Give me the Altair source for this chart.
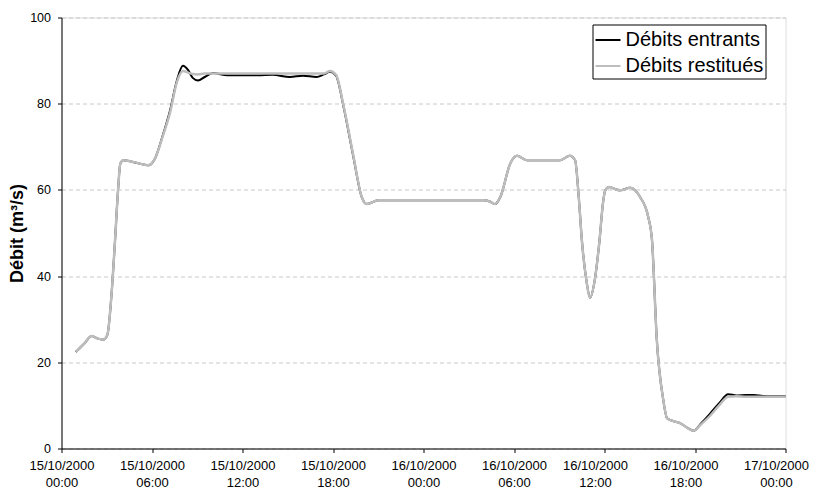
import altair as alt
import pandas as pd
from datetime import datetime, timedelta

# Hours since 15/10/2000 00:00
hours = [0.95, 1.5, 2.0, 2.4, 2.8, 3.05, 3.3, 3.55, 3.75, 3.9, 4.1, 4.6, 5.2, 5.75, 6.2,
         6.7, 7.2, 7.65, 8.05, 8.4, 8.7, 9.05, 9.5, 10.05, 11.0, 12.0, 13.0, 14.0, 15.15,
         16.0, 16.9, 17.4, 17.8, 18.2, 18.7, 19.35, 19.9, 20.25, 21.0, 22.0, 24.0, 26.0,
         28.0, 28.4, 28.75, 29.1, 29.75, 30.2, 30.85, 32.0, 33.06, 33.7, 34.05, 34.3, 34.5,
         34.8, 35.05, 35.35, 35.67, 35.9, 36.05, 36.3, 36.7, 37.05, 37.7, 38.35, 38.9, 39.15,
         39.47, 39.9, 40.15, 40.6, 41.0, 41.5, 41.9, 42.4, 43.0, 43.6, 44.2, 44.75, 45.4,
         45.9, 46.5, 48.0]

entrants = [22.4, 24.3, 26.1, 25.5, 25.3, 26.5, 35.0, 48.3, 60.0, 66.1, 66.9, 66.6, 66.1, 65.7, 67.3,
            72.5, 78.5, 85.4, 88.8, 87.8, 86.0, 85.4, 86.2, 87.1, 86.6, 86.6, 86.6, 86.7, 86.2,
            86.5, 86.2, 86.8, 87.4, 86.5, 79.3, 67.7, 58.4, 56.7, 57.6, 57.6, 57.6, 57.6,
            57.6, 57.3, 56.7, 58.4, 66.1, 67.9, 66.9, 66.9, 66.9, 67.9, 66.9, 58.0, 48.3,
            39.0, 35.0, 39.0, 48.3, 57.0, 59.9, 60.7, 60.2, 59.9, 60.5, 58.4, 53.7, 48.3,
            25.1, 11.2, 7.0, 6.3, 5.9, 4.8, 4.1, 5.8, 8.1, 10.5, 12.6, 12.3, 12.4,
            12.4, 12.2, 12.1]

restitues = [22.4, 24.3, 26.1, 25.5, 25.3, 26.5, 35.0, 48.3, 60.0, 66.1, 66.9, 66.6, 66.1, 65.7, 67.3,
             72.3, 78.0, 85.0, 87.6, 87.2, 86.9, 86.8, 87.0, 87.0, 87.0, 87.0, 87.0, 87.0, 87.0,
             87.0, 87.0, 87.0, 87.6, 86.7, 79.5, 67.9, 58.4, 56.7, 57.6, 57.6, 57.6, 57.6,
             57.6, 57.3, 56.7, 58.4, 66.1, 67.9, 66.9, 66.9, 66.9, 67.9, 66.9, 58.0, 48.3,
             39.0, 35.0, 39.0, 48.3, 57.0, 59.9, 60.7, 60.2, 59.9, 60.5, 58.4, 53.7, 48.3,
             25.1, 11.2, 7.0, 6.3, 5.9, 4.8, 4.1, 5.6, 7.6, 10.0, 12.0, 12.1, 12.0,
             12.0, 12.0, 12.0]

series_names = ["Débits entrants", "Débits restitués"]
series_colors = ["#000000", "#bdbdbd"]

date_ticks = ["2000-10-15T00:00:00", "2000-10-15T06:00:00", "2000-10-15T12:00:00",
              "2000-10-15T18:00:00", "2000-10-16T00:00:00", "2000-10-16T06:00:00",
              "2000-10-16T12:00:00", "2000-10-16T18:00:00", "2000-10-17T00:00:00"]
y_ticks = [0, 20, 40, 60, 80, 100]

base = datetime(2000, 10, 15, 0, 0)
rows = []
for name, vals in zip(series_names, [entrants, restitues]):
    for h, v in zip(hours, vals):
        rows.append({"t": (base + timedelta(hours=h)).strftime("%Y-%m-%dT%H:%M:%S"),
                     "debit": v, "serie": name})
df = pd.DataFrame(rows)

font = "Liberation Sans"

x_enc = alt.X("t:T",
              scale=alt.Scale(domain=[alt.DateTime(year=2000, month=10, date=15, hours=0),
                                      alt.DateTime(year=2000, month=10, date=17, hours=0)]),
              axis=alt.Axis(values=[alt.DateTime(year=int(s[0:4]), month=int(s[5:7]),
                                                 date=int(s[8:10]), hours=int(s[11:13]))
                                    for s in date_ticks],
                            labelExpr="[timeFormat(datum.value, '%d/%m/%Y'), timeFormat(datum.value, '%H:%M')]",
                            title=None, grid=False, tickSize=4, labelPadding=7,
                            labelFontSize=13, labelLineHeight=16.7, labelFont=font,
                            labelColor="#000", domainColor="#000", tickColor="#000",
                            labelOffset={"condition": {"test": "datum.value >= time(datetime(2000, 9, 16, 12))",
                                                       "value": -9.5}, "value": 0},
                            labelFlush=False, labelOverlap=False))
y_enc = alt.Y("debit:Q",
              scale=alt.Scale(domain=[0, 100], nice=False),
              axis=alt.Axis(values=y_ticks, title="Débit (m³/s)", titleFont=font,
                            titleFontSize=18, titleFontWeight="bold", titleColor="#000",
                            titlePadding=3.5, labelFont=font, labelFontSize=12.5,
                            labelColor="#000", tickSize=4, labelPadding=7,
                            domainColor="#000", tickColor="#000",
                            gridColor="#c8c8c8", gridDash=[4, 3], gridWidth=1))
color_enc = alt.Color("serie:N",
                      scale=alt.Scale(domain=series_names, range=series_colors),
                      legend=alt.Legend(title=None, orient="none", legendX=531, legendY=7,
                                        strokeColor="#000", fillColor="#fff", padding=2,
                                        labelFont=font, labelFontSize=20, labelColor="#000",
                                        symbolType="stroke", symbolSize=625,
                                        symbolStrokeWidth=2, labelOffset=4, rowPadding=2))

line1 = alt.Chart(df).transform_filter(alt.datum.serie == series_names[0]).mark_line(
    interpolate="monotone", strokeWidth=2).encode(x=x_enc, y=y_enc, color=color_enc)
line2 = alt.Chart(df).transform_filter(alt.datum.serie == series_names[1]).mark_line(
    interpolate="monotone", strokeWidth=2.5).encode(x=x_enc, y=y_enc, color=color_enc)

chart = alt.layer(line1, line2).properties(
    width=724, height=431,
    autosize=alt.AutoSizeParams(type="none"),
    padding={"left": 53.5, "top": 9.5, "right": 24, "bottom": 45},
).configure_view(stroke="#8c8c8c", strokeWidth=1).configure(background="#ffffff")

chart.save("out.html", embed_options={"renderer": "svg", "actions": False})
